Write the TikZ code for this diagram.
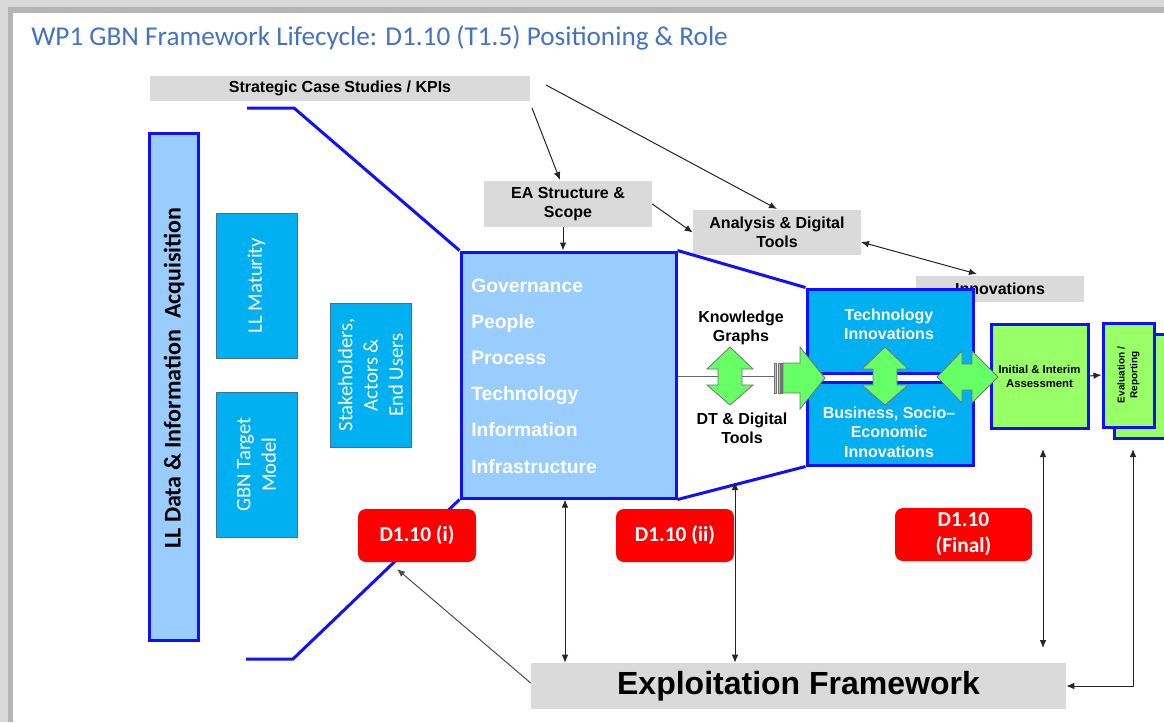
\documentclass[tikz,border=0pt]{standalone}
\usepackage{fontspec}
\setmainfont{Carlito}
\newfontfamily\arialfont{Liberation Sans}
\usetikzlibrary{arrows.meta,fit}

\definecolor{lineblue}{HTML}{1010FF}
\definecolor{govfill}{HTML}{99CCFF}
\definecolor{cyanfill}{HTML}{00B0F0}
\definecolor{cyanedge}{HTML}{41719C}
\definecolor{greyfill}{HTML}{DADADA}
\definecolor{arrowgreen}{HTML}{66FF66}
\definecolor{assessgreen}{HTML}{99FF66}
\definecolor{titleblue}{HTML}{4472C4}
\definecolor{delivred}{HTML}{FF0000}

\tikzset{
  arrowtip/.tip={Latex[length=6pt,width=5pt]},
  conn/.style={draw=black!85, line width=0.75pt},
  blueline/.style={draw=lineblue, line width=2.25pt},
  greybox/.style={fill=greyfill, inner sep=0pt},
  greytext/.style={align=center, text=black, inner sep=0pt,
    font=\arialfont\bfseries\fontsize{12}{14.5}\selectfont},
  sidebox/.style={fill=cyanfill, draw=cyanedge, line width=0.75pt, inner sep=0pt},
  sidetext/.style={rotate=90, align=center, text=white, inner sep=0pt,
    font=\fontsize{15.5}{19}\selectfont},
  bartext/.style={rotate=90, text=black, inner sep=0pt,
    font=\bfseries\fontsize{18}{22}\selectfont},
  govbox/.style={fill=govfill, draw=lineblue, line width=2.25pt, inner sep=0pt},
  govtext/.style={text=white, anchor=base west, inner sep=0pt,
    font=\arialfont\bfseries\fontsize{14.5}{17}\selectfont},
  innovbox/.style={fill=cyanfill, draw=lineblue, line width=2.25pt, inner sep=0pt},
  innovtext/.style={text=white, align=center, inner sep=0pt,
    font=\arialfont\bfseries\fontsize{12}{14.5}\selectfont},
  plainlabel/.style={text=black, align=center, inner sep=0pt,
    font=\arialfont\bfseries\fontsize{12}{14.5}\selectfont},
  assessbox/.style={fill=assessgreen, draw=lineblue, line width=2.25pt, inner sep=0pt},
  assesstext/.style={align=center, text=black, inner sep=0pt,
    font=\arialfont\bfseries\fontsize{8.5}{10.5}\selectfont},
  redbox/.style={fill=delivred, rounded corners=6pt, inner sep=0pt},
  redtext/.style={align=center, text=white, inner sep=0pt,
    font=\bfseries\fontsize{16}{19.5}\selectfont},
  greenarrow/.style={fill=arrowgreen, draw=black!55, line width=0.6pt, line join=miter},
}

\begin{document}
\begin{tikzpicture}[x=0.75pt,y=-0.75pt]
\useasboundingbox (0,0) rectangle (1164,722);

% slide frame with its drop shadow
\fill[black!15] (0,0) rectangle (1164,722);
\fill[black!29] (8,7) rectangle (1164,12.5);
\fill[black!29] (8,7) rectangle (12.5,722);
\fill[white] (12.5,12.5) rectangle (1164,722);

% title
\node[anchor=base west, inner sep=0pt, text=titleblue,
  font=\fontsize{20.4}{24}\selectfont] (title) at (31,45)
  {WP1 GBN Framework Lifecycle: D1.10 (T1.5) Positioning \& Role};

% grey label boxes
\node[greybox, fit={(150,76)(530,101)}] (scs) {};
\node[greytext] (scstxt) at (scs.center) {Strategic Case Studies / KPIs};
\node[greybox, fit={(484,181)(652,227)}] (ea) {};
\node[greytext] (eatxt) at (ea.center) {EA Structure \&\\Scope};
\node[greybox, fit={(693,210)(861,255)}] (adt) {};
\node[greytext] (adttxt) at (adt.center) {Analysis \& Digital\\Tools};
\node[greybox, fit={(916,276)(1084,302)}] (inn) {};
\node[greytext] (inntxt) at (inn.center) {Innovations};
\node[greybox, fit={(531,663)(1066,709)}] (expl) {};
\node[greytext, font=\arialfont\bfseries\fontsize{24}{28}\selectfont] (expltxt)
  at (expl.center) {Exploitation Framework};

% left column
\node[govbox, fit={(149,133)(198,640)}] (llbar) {};
\node[bartext] (llbartxt) at (174,378) {LL Data \& Information~ Acquisition};
\node[sidebox, fit={(216,213)(297,358)}] (llmat) {};
\node[sidetext] (llmattxt) at (llmat.center) {LL Maturity};
\node[sidebox, fit={(216,392)(297,537)}] (gbn) {};
\node[sidetext] (gbntxt) at (gbn.center) {GBN Target\\Model};
\node[sidebox, fit={(330,303)(411,447)}] (stake) {};
\node[sidetext] (staketxt) at (stake.center) {Stakeholders,\\Actors \&\\End Users};

% central enterprise-architecture block
\node[govbox, fit={(461,252)(676,498)}] (gov) {};
\foreach \t [count=\i from 0] in {Governance,People,Process,Technology,Information,Infrastructure}
  \node[govtext] (govline\i) at (471,292+36.2*\i) {\t};

% innovation blocks
\node[innovbox, fit={(807,289)(973,373)}] (techinn) {};
\node[innovbox, fit={(807,382)(973,465)}] (businn) {};
\node[innovtext] (techtxt) at (889,324) {Technology\\Innovations};
\node[innovtext] (bustxt) at (889,432) {Business, Socio–\\Economic\\Innovations};

% funnel outline
\coordinate (ftop) at (247,108);
\coordinate (fbot) at (246,659);
\draw[blueline] (ftop) -- (294,108) -- (gov.north west);
\draw[blueline] (fbot) -- (293,659) -- (gov.south west);
\draw[blueline] (gov.north east) -- (techinn.north west);
\draw[blueline] (gov.south east) -- (businn.south west);

% assessment and reporting
\node[assessbox, fit={(991,324)(1088,428)}] (init) {};
\node[assesstext] (inittxt) at (init.center) {Initial \& Interim\\Assessment};
\node[assessbox, fit={(1114,334)(1176,438)}] (evalback) {};
\node[assessbox, fit={(1103,323)(1154,427)}] (eval) {};
\node[assesstext, rotate=90, font=\arialfont\bfseries\fontsize{7.5}{9.5}\selectfont]
  (evaltxt) at (eval.center) {Evaluation /\\Reporting};
\draw[conn, -arrowtip] (init.east) -- (eval.west);

% labels around the tool arrow
\node[plainlabel] (kg) at (741,328) {Knowledge\\Graphs};
\node[plainlabel] (dt) at (742,428) {DT \& Digital\\Tools};

% link from the EA block into the striped arrow
\coordinate (stripes) at (774,376);
\draw[draw=black!60, line width=0.75pt] (gov.east |- stripes) -- (stripes);

% green block arrows
\draw[greenarrow] (730,347) -- (753,369) -- (742,369) -- (742,385) -- (753,385)
  -- (730,405) -- (707,385) -- (718,385) -- (718,369) -- (707,369) -- cycle;
\draw[greenarrow] (885,347) -- (908,369) -- (897,369) -- (897,385) -- (908,385)
  -- (885,405) -- (862,385) -- (873,385) -- (873,369) -- (862,369) -- cycle;
\draw[greenarrow] (783,363) -- (800,363) -- (800,347) -- (825,378) -- (800,409)
  -- (800,393) -- (783,393) -- cycle;
\draw[greenarrow] (774,363) rectangle (776.5,393);
\draw[greenarrow] (778,363) rectangle (780,393);
\draw[greenarrow] (781,363) rectangle (782.5,393);
\draw[greenarrow] (937,377) -- (962,351) -- (962,364) -- (972,364) -- (972,351)
  -- (998,377) -- (972,403) -- (972,390) -- (962,390) -- (962,403) -- cycle;

% deliverable markers
\node[redbox, fit={(358,509)(476,562)}] (d1) {};
\node[redtext] (d1txt) at (d1.center) {D1.10 (i)};
\node[redbox, fit={(616,509)(734,562)}] (d2) {};
\node[redtext] (d2txt) at (d2.center) {D1.10 (ii)};
\node[redbox, fit={(895,508)(1032,561)}] (d3) {};
\node[redtext] (d3txt) at (d3.center) {D1.10\\(Final)};

% connectors at the top
\coordinate (scsa) at (532,108);
\coordinate (scsb) at (546,85);
\coordinate (eatop) at (560,180);
\coordinate (adttop) at (777,209);
\coordinate (adtright) at (861,242);
\coordinate (inntop) at (977,274);
\draw[conn, -arrowtip] (scsa) -- (eatop);
\draw[conn, -arrowtip] (scsb) -- (adttop);
\draw[conn, -arrowtip] (ea.south -| 563,0) -- (gov.north -| 563,0);
\draw[conn, -arrowtip] (ea.east) -- (adt.west);
\draw[conn, arrowtip-arrowtip] (adtright) -- (inntop);

% connectors to the exploitation framework
\coordinate (d2top) at (735,482);
\coordinate (initlow) at (1043,449);
\coordinate (initgap) at (1043,648);
\coordinate (evallow) at (1133,449);
\coordinate (d1low) at (397,569);
\draw[conn, arrowtip-arrowtip] (gov.south -| 565,0) -- (expl.north -| 565,0);
\draw[conn, arrowtip-arrowtip] (d2top) -- (d2top |- expl.north);
\draw[conn, arrowtip-arrowtip] (initlow) -- (initgap);
\draw[conn, arrowtip-arrowtip] (evallow) |- (expl.east);
\draw[conn, draw=black!70, -arrowtip] (expl.west |- 0,683) -- (d1low);

\end{tikzpicture}
\end{document}
